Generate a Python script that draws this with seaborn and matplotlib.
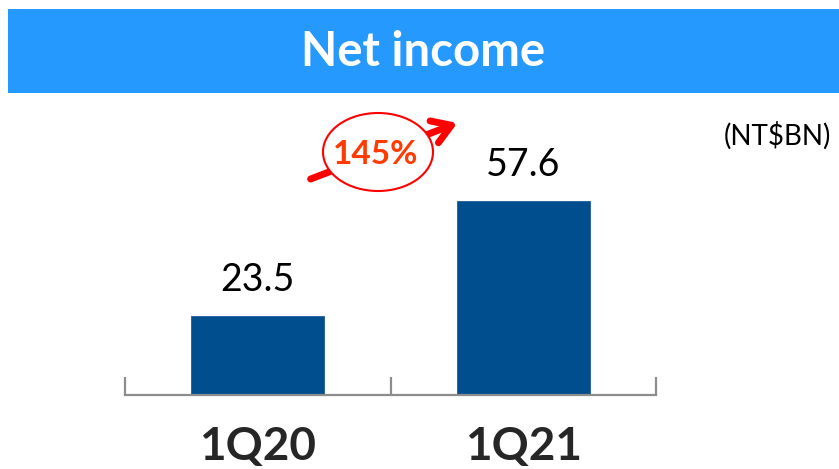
import matplotlib
matplotlib.use("Agg")
import matplotlib.pyplot as plt
import seaborn as sns
from matplotlib.patches import Rectangle, Ellipse, FancyArrowPatch

# data
quarters = ["1Q20", "1Q21"]
net_income = [23.5, 57.6]
growth_label = "145%"
unit_label = "(NT$BN)"
title = "Net income"

sns.set_theme(style="white")
plt.rcParams["font.family"] = ["Lato", "DejaVu Sans"]

W, H = 839, 469
fig = plt.figure(figsize=(W / 100, H / 100), dpi=100)

def fx(px):
    return px / W

def fy(py):
    return 1 - py / H

# blue title banner
fig.patches.append(Rectangle((fx(8), fy(93)), 1 - fx(8), fy(9) - fy(93),
                             transform=fig.transFigure, facecolor="#2699FF",
                             edgecolor="none", zorder=0))
fig.text(fx(423), fy(52), title, color="white", fontsize=34, fontweight="bold",
         ha="center", va="center")
fig.text(fx(777), fy(136), unit_label, color="black", fontsize=20,
         ha="center", va="center")

# axes: baseline at y=395 px, from x=125 to x=656
ax = fig.add_axes([fx(125), 1 - 395 / H, fx(656) - fx(125), (395 - 100) / H])
sns.barplot(x=quarters, y=net_income, color="#004E8E", width=0.5,
            saturation=1, ax=ax, edgecolor="#1F5D96", linewidth=0.6)
ax.set_xlim(-0.5, 1.5)
ax.set_ylim(0, 87.8)
ax.set_yticks([])
ax.set_ylabel("")
for s in ["top", "left", "right"]:
    ax.spines[s].set_visible(False)
ax.spines["bottom"].set_color("#8C8C8C")
ax.spines["bottom"].set_linewidth(1.6)
ax.set_xticks([-0.5, 0.5, 1.5], minor=True)
ax.tick_params(axis="x", which="minor", bottom=True, direction="in",
               length=13, width=1.6, color="#8C8C8C")
ax.tick_params(axis="x", which="major", bottom=True, length=0, pad=22,
               labelsize=33)
for lab in ax.get_xticklabels():
    lab.set_fontweight("bold")

ax.bar_label(ax.containers[0], labels=[f"{v:.1f}" for v in net_income],
             padding=13, fontsize=27, color="black")

# growth arrow with ellipse
arrow = FancyArrowPatch((fx(308), fy(180)), (fx(460), fy(122)),
                        transform=fig.transFigure,
                        arrowstyle="->,head_length=1.1,head_width=0.7",
                        color="red", lw=5, mutation_scale=12)
fig.patches.append(arrow)
fig.patches.append(Ellipse((fx(378), fy(152)), fx(110), 78 / H,
                           transform=fig.transFigure, facecolor="white",
                           edgecolor="red", lw=1.5))
fig.text(fx(376), fy(154), growth_label, color="#FF3B00", fontsize=24,
         fontweight="bold", ha="center", va="center")

fig.savefig("out.png", dpi=100)
